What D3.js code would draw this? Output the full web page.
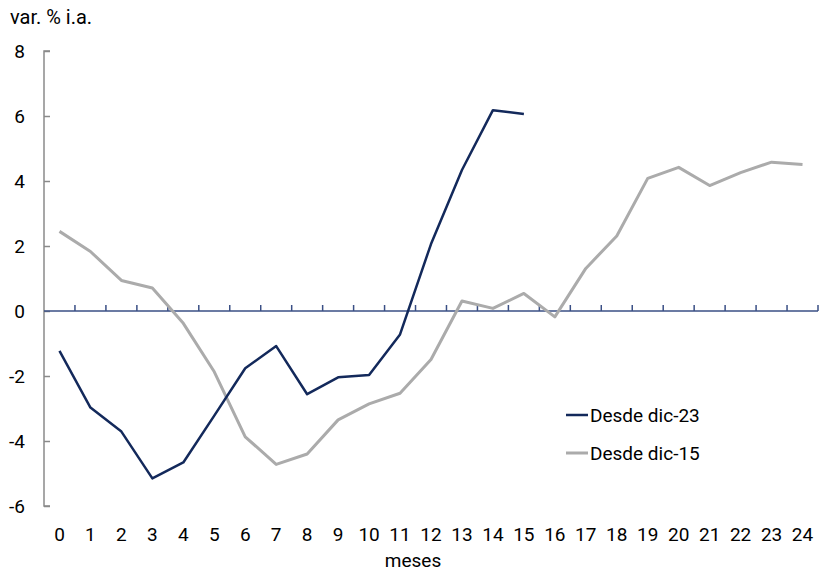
<!DOCTYPE html>
<html>
<head>
<meta charset="utf-8">
<script src="https://cdn.jsdelivr.net/npm/d3@7"></script>
<style>
  html, body { margin: 0; padding: 0; background: #fff; }
  svg { display: block; font-family: Roboto, "Noto Sans", sans-serif; }
</style>
</head>
<body>
<svg id="chart" width="819" height="572"></svg>
<script>
// Months elapsed since the reference December
const months = d3.range(0, 25);
// Year-on-year % change, path starting Dec-23 (15 months available)
const desdeDic23 = [-1.23, -2.97, -3.71, -5.15, -4.66, -3.22, -1.76, -1.08, -2.56, -2.04,
                    -1.97, -0.72, 2.06, 4.34, 6.18, 6.06];
// Year-on-year % change, path starting Dec-15 (24 months)
const desdeDic15 = [2.45, 1.83, 0.94, 0.71, -0.38, -1.87, -3.87, -4.72, -4.40, -3.35,
                    -2.86, -2.53, -1.49, 0.31, 0.08, 0.54, -0.18, 1.31, 2.31, 4.08,
                    4.42, 3.86, 4.26, 4.58, 4.51];
const yTicks = [-6, -4, -2, 0, 2, 4, 6, 8];
const seriesNames = ["Desde dic-23", "Desde dic-15"];

const navy = "#13295b";
const grey = "#ababab";
const fs = 19;

const svg = d3.select("#chart");
const plotLeft = 44, plotRight = 818, plotTop = 51, plotBottom = 506;

const x = d3.scaleBand().domain(months).range([plotLeft, plotRight]);
const y = d3.scaleLinear().domain([-6, 8]).range([plotBottom, plotTop]);

// Title of the value axis
svg.append("text")
  .attr("x", 10).attr("y", 24)
  .attr("font-size", 20).attr("fill", "#000")
  .text("var. % i.a.");

// Vertical value axis
const yAxis = svg.append("g")
  .attr("transform", `translate(${plotLeft},0)`)
  .call(d3.axisRight(y).tickValues(yTicks).tickSize(6).tickFormat(""));
yAxis.select(".domain").attr("stroke", "#8a8a8a").attr("stroke-width", 1.5)
  .attr("d", `M6,${plotTop}H0V${plotBottom}H6`);
yAxis.selectAll(".tick line").attr("stroke", "#8a8a8a").attr("stroke-width", 1.5);

svg.append("g").selectAll("text")
  .data(yTicks).join("text")
  .attr("x", 25).attr("y", d => y(d))
  .attr("dy", "0.36em")
  .attr("text-anchor", "end")
  .attr("font-size", fs).attr("fill", "#000")
  .text(d => d);

// Horizontal axis sitting on zero, with ticks between months
const boundaries = months.slice(1).map(m => x(m)).concat([plotRight]);
const xAxis = svg.append("g");
xAxis.append("line")
  .attr("x1", plotLeft).attr("x2", plotRight)
  .attr("y1", y(0)).attr("y2", y(0))
  .attr("stroke", "#3a4f85").attr("stroke-width", 1.5);
xAxis.selectAll("line.tk")
  .data(boundaries).join("line")
  .attr("class", "tk")
  .attr("x1", d => d).attr("x2", d => d)
  .attr("y1", y(0)).attr("y2", y(0) - 6)
  .attr("stroke", "#3a4f85").attr("stroke-width", 1.5);

// Month labels below the plot
svg.append("g").selectAll("text")
  .data(months).join("text")
  .attr("x", d => x(d) + x.bandwidth() / 2)
  .attr("y", 541)
  .attr("text-anchor", "middle")
  .attr("font-size", fs).attr("fill", "#000")
  .text(d => d);

svg.append("text")
  .attr("x", 413).attr("y", 567)
  .attr("text-anchor", "middle")
  .attr("font-size", fs).attr("fill", "#000")
  .text("meses");

// Series lines
const line = d3.line()
  .x((d, i) => x(months[i]) + x.bandwidth() / 2)
  .y(d => y(d));

svg.append("path")
  .datum(desdeDic15)
  .attr("fill", "none").attr("stroke", grey)
  .attr("stroke-width", 3).attr("stroke-linejoin", "round")
  .attr("d", line);

svg.append("path")
  .datum(desdeDic23)
  .attr("fill", "none").attr("stroke", navy)
  .attr("stroke-width", 2.5).attr("stroke-linejoin", "round")
  .attr("d", line);

// Legend
const legend = svg.append("g");
const legendRows = [
  { name: seriesNames[0], color: navy, w: 2.5, yy: 415 },
  { name: seriesNames[1], color: grey, w: 3, yy: 453 }
];
legendRows.forEach(r => {
  legend.append("line")
    .attr("x1", 566).attr("x2", 588)
    .attr("y1", r.yy).attr("y2", r.yy)
    .attr("stroke", r.color).attr("stroke-width", r.w);
  legend.append("text")
    .attr("x", 590).attr("y", r.yy)
    .attr("dy", "0.36em")
    .attr("font-size", fs).attr("fill", "#000")
    .text(r.name);
});
</script>
</body>
</html>
